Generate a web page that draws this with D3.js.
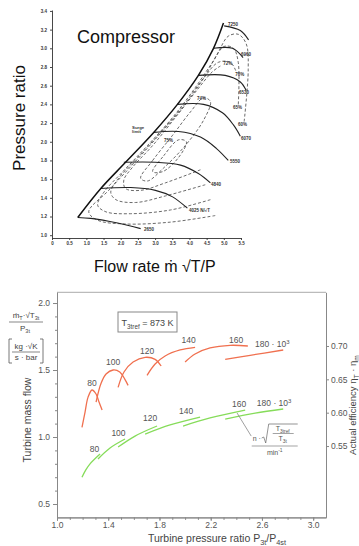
<!DOCTYPE html>
<html>
<head>
<meta charset="utf-8">
<script src="https://cdn.jsdelivr.net/npm/d3@7"></script>
<style>
  html, body { margin: 0; padding: 0; background: #fff; }
  svg { display: block; font-family: "Liberation Sans", Arial, sans-serif; }
</style>
</head>
<body>
<svg id="chart" width="359" height="546"></svg>
<script>
// ---------- compressor map (flow rate, pressure ratio) ----------
const prTicks = [1.0, 1.2, 1.4, 1.6, 1.8, 2.0, 2.2, 2.4, 2.6, 2.8, 3.0, 3.2, 3.4];
const flowTicks = [0, 0.5, 1.0, 1.5, 2.0, 2.5, 3.0, 3.5, 4.0, 4.5, 5.0, 5.5];
const flowTickLabels = ['0', '0.5', '1.0', '1.5', '2.0', '2.5', '3.0', '3.5', '4.0', '4.5', '5.0', '5.5'];

const surgeLine = [[0.75, 1.19], [1.42, 1.50], [2.14, 1.78], [2.96, 2.10], [3.65, 2.40], [4.26, 2.71], [4.70, 3.00], [4.99, 3.27]];

const speedNames = ['2650', '4025 N/\u221AT', '4840', '5550', '6070', '6530', '6960', '7250'];
const speedCurves = [
  [[0.75, 1.19], [1.13, 1.18], [1.91, 1.13], [2.58, 1.07]],
  [[1.42, 1.50], [2.29, 1.51], [3.01, 1.48], [3.51, 1.41], [3.94, 1.29]],
  [[2.09, 1.78], [3.01, 1.78], [3.74, 1.75], [4.26, 1.66], [4.61, 1.56]],
  [[2.96, 2.10], [3.68, 2.11], [4.32, 2.05], [4.78, 1.93], [5.13, 1.80]],
  [[3.65, 2.40], [4.41, 2.40], [4.96, 2.31], [5.28, 2.18], [5.48, 2.06]],
  [[4.26, 2.71], [5.04, 2.71], [5.48, 2.64], [5.65, 2.55]],
  [[4.70, 3.00], [5.25, 3.00], [5.56, 2.90]],
  [[5.01, 3.24], [5.48, 3.19], [5.72, 3.09]],
];
const speedLabelAt = [[2.68, 1.04], [3.99, 1.25], [4.63, 1.53], [5.18, 1.77], [5.50, 2.02], [5.44, 2.51], [5.50, 2.92], [5.12, 3.24]];

// efficiency islands (open ones first, closed ones last)
const effNames = ['60%', '65%', '70%', '72%', '74%', '75%'];
const effCurves = [
  [[4.75, 1.21], [3.45, 1.14], [2.14, 1.12], [1.33, 1.16], [1.07, 1.25], [1.65, 1.48], [2.38, 1.77], [3.16, 2.09],
    [3.86, 2.39], [4.43, 2.69], [4.84, 2.96], [5.13, 3.13], [5.42, 3.15], [5.65, 3.05], [5.71, 2.77], [5.59, 2.21]],
  [[4.61, 1.38], [3.45, 1.27], [2.29, 1.23], [1.57, 1.25], [1.33, 1.32], [1.51, 1.46], [2.06, 1.68], [2.78, 1.96],
    [3.51, 2.26], [4.17, 2.58], [4.67, 2.85], [5.01, 3.02], [5.28, 3.00], [5.42, 2.85], [5.42, 2.39]],
  [[4.46, 1.54], [3.30, 1.42], [2.43, 1.35], [1.86, 1.38], [1.71, 1.46], [1.94, 1.61], [2.49, 1.83], [3.16, 2.10],
    [3.83, 2.39], [4.41, 2.68], [4.84, 2.85], [5.19, 2.85], [5.36, 2.75]],
  [[4.32, 1.70], [3.30, 1.56], [2.58, 1.48], [2.14, 1.50], [2.09, 1.59], [2.35, 1.73], [2.93, 1.96], [3.57, 2.25],
    [4.17, 2.53], [4.67, 2.75], [4.90, 2.81]],
  [[2.58, 1.61], [2.93, 1.80], [3.51, 2.07], [4.03, 2.32], [4.41, 2.47], [4.61, 2.43], [4.41, 2.23], [3.88, 1.96],
    [3.25, 1.72], [2.78, 1.58]],
  [[2.93, 1.68], [3.25, 1.85], [3.68, 2.02], [3.91, 2.00], [3.68, 1.83], [3.22, 1.68]],
];
const effClosed = [false, false, false, false, true, true];
const effLabelAt = [[5.41, 2.17], [5.27, 2.35], [5.33, 2.70], [4.98, 2.82], [4.22, 2.45], [3.26, 2.00]];

// ---------- turbine map (pressure ratio, mass flow / efficiency) ----------
const turbPrTicks = [1.0, 1.4, 1.8, 2.2, 2.6, 3.0];
const turbFlowTicks = [0.5, 1.0, 1.5, 2.0];
const turbEffTicks = [0.55, 0.60, 0.65, 0.70];

const turbSpeedNames = ['80', '100', '120', '140', '160', '180 \u00B7 10'];
const effSeries = [
  [[1.195, 0.578], [1.219, 0.601], [1.242, 0.623], [1.273, 0.634], [1.305, 0.628], [1.328, 0.616], [1.352, 0.604]],
  [[1.305, 0.616], [1.344, 0.644], [1.383, 0.658], [1.438, 0.664], [1.49, 0.661], [1.53, 0.65], [1.555, 0.641]],
  [[1.477, 0.638], [1.523, 0.661], [1.594, 0.676], [1.688, 0.683], [1.766, 0.680], [1.813, 0.670]],
  [[1.703, 0.656], [1.766, 0.673], [1.844, 0.685], [1.961, 0.694], [2.078, 0.698]],
  [[2.0, 0.676], [2.078, 0.688], [2.195, 0.697], [2.352, 0.701], [2.49, 0.700]],
  [[2.313, 0.680], [2.508, 0.686], [2.766, 0.694]],
];
const effSeriesLabelAt = [[1.273, 0.640], [1.438, 0.6715], [1.703, 0.688], [2.027, 0.7045], [2.398, 0.7045], [2.68, 0.6985]];

const flowSeries = [
  [[1.195, 0.70], [1.225, 0.755], [1.258, 0.80], [1.336, 0.873]],
  [[1.32, 0.836], [1.414, 0.918], [1.531, 0.985]],
  [[1.477, 0.925], [1.609, 1.007], [1.781, 1.082]],
  [[1.688, 1.022], [1.883, 1.09], [2.117, 1.149]],
  [[1.984, 1.082], [2.195, 1.142], [2.469, 1.201]],
  [[2.313, 1.134], [2.547, 1.179], [2.766, 1.209]],
];
const flowSeriesLabelAt = [[1.293, 0.888], [1.48, 1.007], [1.727, 1.119], [2.008, 1.172], [2.422, 1.224], [2.695, 1.231]];

const svg = d3.select('#chart');
svg.append('rect').attr('width', 359).attr('height', 546).attr('fill', '#fff');

// text with sub/superscript parts
function richText(g, x, y, parts, size, anchor, fill) {
  const t = g.append('text')
    .attr('x', x).attr('y', y)
    .attr('font-size', size)
    .attr('text-anchor', anchor || 'start')
    .attr('fill', fill || '#555');
  let cur = 0;
  parts.forEach((p) => {
    let shift = 0;
    if (p.sub) shift = size * 0.28;
    if (p.sup) shift = -size * 0.4;
    const s = t.append('tspan').attr('dy', shift - cur).text(p.t);
    if (p.sub || p.sup) s.attr('font-size', size * 0.7);
    cur = shift;
  });
  return t;
}

// ===== compressor =====
const cx = d3.scaleLinear().domain([0, 5.5]).range([52, 241]);
const cy = d3.scaleLinear().domain([0.97, 3.41]).range([238, 10]);
const cLine = d3.line().x((d) => cx(d[0])).y((d) => cy(d[1])).curve(d3.curveCatmullRom.alpha(0.5));
const cLoop = d3.line().x((d) => cx(d[0])).y((d) => cy(d[1])).curve(d3.curveCatmullRomClosed.alpha(0.5));

const comp = svg.append('g');

const cxAxis = comp.append('g')
  .attr('transform', `translate(0,${cy(0.97)})`)
  .call(d3.axisBottom(cx).tickValues(flowTicks).tickSize(2).tickSizeOuter(0).tickPadding(1.5)
    .tickFormat((d, i) => flowTickLabels[i]));
const cyAxis = comp.append('g')
  .attr('transform', `translate(${cx(0)},0)`)
  .call(d3.axisLeft(cy).tickValues(prTicks).tickSize(2).tickSizeOuter(0).tickPadding(3)
    .tickFormat(d3.format('.1f')));
[cxAxis, cyAxis].forEach((a) => {
  a.selectAll('path, line').attr('stroke', '#333').attr('stroke-width', 0.9);
  a.selectAll('text').attr('font-size', 4.5).attr('font-weight', 'bold').attr('fill', '#333')
    .attr('font-family', '"Liberation Sans", Arial, sans-serif');
});

// efficiency contours
comp.selectAll('path.eff')
  .data(effCurves)
  .enter()
  .append('path')
  .attr('class', 'eff')
  .attr('d', (d, i) => (effClosed[i] ? cLoop(d) : cLine(d)))
  .attr('fill', 'none')
  .attr('stroke', '#444')
  .attr('stroke-width', 0.8)
  .attr('stroke-dasharray', '3,2');

// speed lines
comp.selectAll('path.speed')
  .data(speedCurves)
  .enter()
  .append('path')
  .attr('class', 'speed')
  .attr('d', (d) => cLine(d))
  .attr('fill', 'none')
  .attr('stroke', '#222')
  .attr('stroke-width', 1.1);

// surge line
comp.append('path')
  .attr('d', cLine(surgeLine))
  .attr('fill', 'none')
  .attr('stroke', '#111')
  .attr('stroke-width', 1.5);

comp.selectAll('text.speedLbl')
  .data(speedNames)
  .enter()
  .append('text')
  .attr('class', 'speedLbl')
  .attr('x', (d, i) => cx(speedLabelAt[i][0]))
  .attr('y', (d, i) => cy(speedLabelAt[i][1]))
  .attr('font-size', 4.5)
  .attr('font-weight', 'bold')
  .attr('fill', '#333')
  .text((d) => d);

comp.selectAll('text.effLbl')
  .data(effNames)
  .enter()
  .append('text')
  .attr('class', 'effLbl')
  .attr('x', (d, i) => cx(effLabelAt[i][0]))
  .attr('y', (d, i) => cy(effLabelAt[i][1]))
  .attr('font-size', 4.5)
  .attr('font-weight', 'bold')
  .attr('fill', '#333')
  .text((d) => d);

const surgeLbl = comp.append('text')
  .attr('x', cx(2.33)).attr('y', cy(2.14))
  .attr('font-size', 4.3).attr('font-weight', 'bold').attr('fill', '#333');
surgeLbl.append('tspan').text('Surge');
surgeLbl.append('tspan').attr('x', cx(2.33)).attr('dy', 4.5).text('limit');

comp.append('text')
  .attr('x', 77).attr('y', 43)
  .attr('font-size', 18)
  .attr('fill', '#111')
  .text('Compressor');

comp.append('text')
  .attr('transform', 'translate(25,118) rotate(-90)')
  .attr('text-anchor', 'middle')
  .attr('font-size', 17)
  .attr('fill', '#111')
  .text('Pressure ratio');

comp.append('text')
  .attr('x', 94).attr('y', 272)
  .attr('font-size', 16)
  .attr('fill', '#111')
  .text('Flow rate \u1E41 \u221AT/P');

// ===== turbine =====
const tx = d3.scaleLinear().domain([1.0, 3.1]).range([57, 326]);
const tyL = d3.scaleLinear().domain([0.4, 2.08]).range([517.4, 292.3]);
const tyR = d3.scaleLinear().domain([0.443, 0.7805]).range([517.4, 292.3]);
const turb = svg.append('g');

const gridCol = '#888';
turb.append('line')
  .attr('x1', tx(1.0)).attr('x2', tx(3.1))
  .attr('y1', tyL(2.08)).attr('y2', tyL(2.08))
  .attr('stroke', '#aaa').attr('stroke-width', 1);

const txMinor = turb.append('g')
  .attr('transform', `translate(0,${tyL(0.4)})`)
  .call(d3.axisBottom(tx).tickValues(d3.range(1.0, 3.05, 0.1)).tickSize(2.5).tickSizeOuter(0).tickFormat(''));
const txAxis = turb.append('g')
  .attr('transform', `translate(0,${tyL(0.4)})`)
  .call(d3.axisBottom(tx).tickValues(turbPrTicks).tickSize(3.5).tickSizeOuter(0).tickPadding(1.5)
    .tickFormat(d3.format('.1f')));
const tyMinor = turb.append('g')
  .attr('transform', `translate(${tx(1.0)},0)`)
  .call(d3.axisLeft(tyL).tickValues(d3.range(0.5, 2.05, 0.1)).tickSize(2).tickSizeOuter(0).tickFormat(''));
const tyAxis = turb.append('g')
  .attr('transform', `translate(${tx(1.0)},0)`)
  .call(d3.axisLeft(tyL).tickValues(turbFlowTicks).tickSize(4).tickSizeOuter(0).tickPadding(3)
    .tickFormat(d3.format('.1f')));
const trAxis = turb.append('g')
  .attr('transform', `translate(${tx(3.1)},0)`)
  .call(d3.axisRight(tyR).tickValues(turbEffTicks).tickSize(3).tickSizeOuter(0).tickPadding(2)
    .tickFormat(d3.format('.2f')));
[txMinor, txAxis, tyMinor, tyAxis, trAxis].forEach((a) => {
  a.selectAll('path, line').attr('stroke', gridCol).attr('stroke-width', 1);
  a.selectAll('text').attr('font-size', 8.5).attr('fill', '#555')
    .attr('font-family', '"Liberation Sans", Arial, sans-serif');
});

const tLineEff = d3.line().x((d) => tx(d[0])).y((d) => tyR(d[1])).curve(d3.curveCatmullRom.alpha(0.5));
const tLineFlow = d3.line().x((d) => tx(d[0])).y((d) => tyL(d[1])).curve(d3.curveCatmullRom.alpha(0.5));

turb.selectAll('path.effS')
  .data(effSeries)
  .enter()
  .append('path')
  .attr('class', 'effS')
  .attr('d', (d) => tLineEff(d))
  .attr('fill', 'none')
  .attr('stroke', '#f0704f')
  .attr('stroke-width', 1.3);

turb.selectAll('path.flowS')
  .data(flowSeries)
  .enter()
  .append('path')
  .attr('class', 'flowS')
  .attr('d', (d) => tLineFlow(d))
  .attr('fill', 'none')
  .attr('stroke', '#86dc5a')
  .attr('stroke-width', 1.3);

function speedLabel(name, x, y) {
  const parts = [{ t: name }];
  if (name.indexOf('180') === 0) parts.push({ t: '3', sup: true });
  richText(turb, x, y, parts, 8.5, 'middle', '#555');
}
turbSpeedNames.forEach((n, i) => {
  speedLabel(n, tx(effSeriesLabelAt[i][0]), tyR(effSeriesLabelAt[i][1]));
  speedLabel(n, tx(flowSeriesLabelAt[i][0]), tyL(flowSeriesLabelAt[i][1]));
});

// reference temperature box
turb.append('rect')
  .attr('x', 118).attr('y', 312).attr('width', 59).attr('height', 20)
  .attr('fill', '#fff').attr('stroke', '#888').attr('stroke-width', 1);
richText(turb, 147.5, 326, [{ t: 'T' }, { t: '3tref', sub: true }, { t: ' = 873 K' }], 9, 'middle', '#444');

// speed parameter annotation with leader line
turb.append('line')
  .attr('x1', tx(2.406)).attr('y1', tyL(1.179))
  .attr('x2', tx(2.516)).attr('y2', tyL(1.007))
  .attr('stroke', '#888').attr('stroke-width', 0.8);
const ann = turb.append('g').attr('transform', `translate(${tx(2.52)},${tyL(1.0)})`);
ann.append('text').attr('x', 1).attr('y', 4).attr('font-size', 7).attr('fill', '#555').text('n \u00B7');
ann.append('path').attr('d', 'M10,1 L12,0 L14,6 L17,-13 L46,-13')
  .attr('fill', 'none').attr('stroke', '#666').attr('stroke-width', 0.7);
richText(ann, 31, -6, [{ t: 'T' }, { t: '3tref', sub: true }], 7, 'middle', '#555');
ann.append('line').attr('x1', 21).attr('x2', 42).attr('y1', -3.5).attr('y2', -3.5).attr('stroke', '#666').attr('stroke-width', 0.6);
richText(ann, 31, 4, [{ t: 'T' }, { t: '3t', sub: true }], 7, 'middle', '#555');
ann.append('line').attr('x1', 0).attr('x2', 46).attr('y1', 9).attr('y2', 9).attr('stroke', '#666').attr('stroke-width', 0.6);
richText(ann, 23, 18, [{ t: 'min' }, { t: '-1', sup: true }], 7, 'middle', '#555');

// unit label at top-left
richText(turb, 26, 318, [{ t: '\u1E41' }, { t: 'T', sub: true }, { t: '\u00B7\u221AT' }, { t: '3t', sub: true }], 8, 'middle', '#444');
turb.append('line').attr('x1', 9).attr('x2', 43).attr('y1', 322).attr('y2', 322).attr('stroke', '#555').attr('stroke-width', 0.7);
richText(turb, 25, 331, [{ t: 'P' }, { t: '3t', sub: true }], 8, 'middle', '#444');
turb.append('path').attr('d', 'M12,339 L9,339 L9,363 L12,363 M40,339 L43,339 L43,363 L40,363')
  .attr('fill', 'none').attr('stroke', '#555').attr('stroke-width', 0.8);
turb.append('text').attr('x', 26).attr('y', 349).attr('text-anchor', 'middle').attr('font-size', 8).attr('fill', '#444').text('kg \u00B7\u221AK');
turb.append('line').attr('x1', 12).attr('x2', 40).attr('y1', 352).attr('y2', 352).attr('stroke', '#555').attr('stroke-width', 0.7);
turb.append('text').attr('x', 26).attr('y', 360).attr('text-anchor', 'middle').attr('font-size', 8).attr('fill', '#444').text('s \u00B7 bar');

// axis titles
turb.append('text')
  .attr('transform', 'translate(31,420) rotate(-90)')
  .attr('text-anchor', 'middle')
  .attr('font-size', 10.5)
  .attr('fill', '#444')
  .text('Turbine mass flow');
richText(turb.append('g').attr('transform', 'translate(356,405) rotate(-90)'), 0, 0,
  [{ t: 'Actual efficiency \u03B7' }, { t: 'T', sub: true }, { t: ' \u00B7 \u03B7' }, { t: 'm', sub: true }], 9.5, 'middle', '#444');
richText(turb, 217, 542,
  [{ t: 'Turbine pressure ratio P' }, { t: '3t', sub: true }, { t: '/P' }, { t: '4st', sub: true }], 10.5, 'middle', '#444');
</script>
</body>
</html>
